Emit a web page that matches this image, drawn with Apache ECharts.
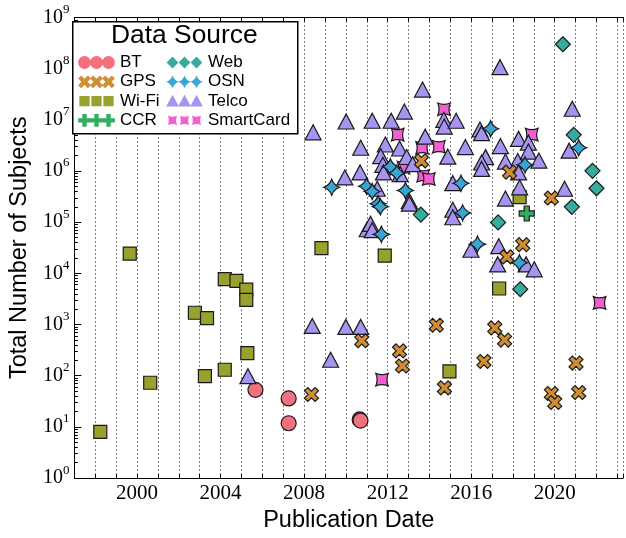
<!DOCTYPE html>
<html><head><meta charset="utf-8">
<script src="https://cdn.jsdelivr.net/npm/echarts@6/dist/echarts.min.js"></script>
<style>html,body{margin:0;padding:0;background:#fff}#c{width:626px;height:538px}</style>
</head><body><div id="c"></div>
<script>
// ---- data: [publication year, total number of subjects] ----
const bt = [[2005.67,53],[2007.26,36],[2007.26,11.8],[2010.66,14],[2010.70,13.3]];
const gps = [[2008.35,43],[2010.76,483],[2012.57,306],[2012.71,155],[2014.33,970],[2014.72,58],[2016.61,190],[2017.13,860],[2017.6,498],[2019.84,45],[2020.0,30],[2021.02,177],[2021.15,47],[2013.62,1.58e6],[2017.84,9.5e5],[2019.84,2.97e5],[2018.47,3.64e4],[2017.71,2.1e4]];
const wifi = [[1998.24,8],[1999.65,24400],[2000.63,73],[2002.77,1700],[2003.35,1340],[2003.25,98],[2004.2,7700],[2004.76,7130],[2005.23,4800],[2005.23,3030],[2004.2,131],[2005.28,276],[2008.83,31300],[2011.86,22300],[2014.96,122],[2018.32,3.1e5],[2017.34,5070]];
const ccr = [[2018.66,1.48e5]];
const web = [[2020.39,3.0e8],[2020.91,5.1e6],[2021.81,1.01e6],[2022.0,4.6e5],[2020.82,2.0e5],[2013.59,1.41e5],[2017.29,9.9e4],[2018.35,4.9e3]];
const osn = [[2009.32,4.83e5],[2010.99,5.05e5],[2011.26,3.99e5],[2011.54,2.3e5],[2011.65,2.0e5],[2011.70,5.8e4],[2012.13,1.21e6],[2012.44,9.1e5],[2012.85,4.17e5],[2015.51,5.77e5],[2015.59,1.52e5],[2016.30,3.73e4],[2018.58,1.32e6],[2018.31,1.61e4],[2021.15,2.85e6],[2016.93,6.7e6]];
const telco = [[2005.31,98],[2008.39,940],[2009.27,205],[2010.0,900],[2010.71,900],
 [2008.43,5.7e6],[2010.01,9.3e6],[2009.95,7.5e5],[2011.26,9.6e6],[2012.17,9.6e6],[2012.8,1.45e7],[2013.67,3.9e7],[2017.38,1.07e8],
 [2010.71,2.85e6],[2011.89,3.3e6],[2012.57,2.76e6],[2013.8,4.7e6],[2014.69,1.0e7],[2014.71,7.4e6],[2015.28,9.6e6],[2015.72,2.94e6],[2016.42,6.5e6],[2016.5,5.5e6],[2017.4,3.07e6],[2018.27,4.25e6],[2018.74,3.6e6],[2020.84,1.65e7],[2020.69,2.5e6],
 [2014.88,1.91e6],[2011.67,1.95e6],[2012.91,1.88e6],[2016.69,1.87e6],[2018.23,1.57e6],[2018.74,2.4e6],[2019.24,1.6e6],
 [2011.77,1.32e6],[2013.2,1.36e6],[2011.8,9.4e5],[2012.6,8.7e5],[2010.68,9.4e5],[2011.5,4.5e5],[2015.12,5.8e5],[2013.04,2.6e5],[2013.04,2.3e5],[2015.12,1.75e5],[2015.12,1.25e5],[2011.02,7.3e4],[2011.18,9.3e4],[2011.26,7.0e4],
 [2016.5,1.47e6],[2016.5,1.1e6],[2017.64,1.53e6],[2018.27,9.4e5],[2017.64,2.9e5],[2018.32,4.8e5],[2020.47,4.5e5],
 [2015.99,2.9e4],[2017.32,3.4e4],[2017.27,1.5e4],[2018.63,1.5e4],[2019.02,1.2e4]];
const smartcard = [[2014.7,1.61e7],[2012.48,5.14e6],[2013.65,2.85e6],[2014.45,2.98e6],[2018.9,5.14e6],[2012.76,1.17e6],[2013.7,8.1e5],[2013.97,7.0e5],[2011.73,84],[2022.15,2650]];

const legendCol1 = ['BT','GPS','Wi-Fi','CCR'];
const legendCol2 = ['Web','OSN','Telco','SmartCard'];
const xLabelYears = [2000,2004,2008,2012,2016,2020];
const xMin = 1997, xMax = 2023.27;
const yMin = 1, yMax = 1e9;

const colors = {BT:'#f3707f', GPS:'#d08d33', 'Wi-Fi':'#98a12c', CCR:'#33ad62', Web:'#37ab9d', OSN:'#38a5d3', Telco:'#a793f0', SmartCard:'#f25fd2'};

// ---- marker shapes ----
function shape(kind, cx, cy, r) {
  const f = (x, y) => (cx + x * r).toFixed(2) + ' ' + (cy + y * r).toFixed(2);
  const poly = pts => 'M' + pts.map(p => f(p[0], p[1])).join('L') + 'Z';
  switch (kind) {
    case 'circle': return 'M' + f(-1,0) + 'A' + r + ' ' + r + ' 0 1 0 ' + f(1,0) + 'A' + r + ' ' + r + ' 0 1 0 ' + f(-1,0) + 'Z';
    case 'x': { const a = 0.48; return poly([[-1,-1+a],[-1+a,-1],[0,-a],[1-a,-1],[1,-1+a],[a,0],[1,1-a],[1-a,1],[0,a],[-1+a,1],[-1,1-a],[-a,0]]); }
    case 'square': { const s = 0.8; return poly([[-s,-s],[s,-s],[s,s],[-s,s]]); }
    case 'plus': { const w = 0.34; return poly([[-w,-1],[w,-1],[w,-w],[1,-w],[1,w],[w,w],[w,1],[-w,1],[-w,w],[-1,w],[-1,-w],[-w,-w]]); }
    case 'diamond': { const s = 0.92; return poly([[0,-s],[s,0],[0,s],[-s,0]]); }
    case 'star': { const c = 0.26; return 'M' + f(0,-1) + 'Q' + f(c,-c) + ' ' + f(1,0) + 'Q' + f(c,c) + ' ' + f(0,1) + 'Q' + f(-c,c) + ' ' + f(-1,0) + 'Q' + f(-c,-c) + ' ' + f(0,-1) + 'Z'; }
    case 'triangle': return poly([[0,-1],[1,0.85],[-1,0.85]]);
    case 'pillow': { const s = 0.72, c = 0.42; return 'M' + f(-s,-s) + 'Q' + f(0,-c) + ' ' + f(s,-s) + 'Q' + f(c,0) + ' ' + f(s,s) + 'Q' + f(0,c) + ' ' + f(-s,s) + 'Q' + f(-c,0) + ' ' + f(-s,-s) + 'Z'; }
  }
}
const kinds = {BT:'circle', GPS:'x', 'Wi-Fi':'square', CCR:'plus', Web:'diamond', OSN:'star', Telco:'triangle', SmartCard:'pillow'};
function legendIcon(name) {
  const k = kinds[name];
  return 'path://M0 0L0.01 0.01M37 13L36.99 12.99' + [6.5, 18.5, 30.5].map(cx => shape(k, cx, 6.5, 6.4)).join('');
}
function seriesSymbol(name) {
  const k = kinds[name];
  if (k === 'circle') return 'circle';
  if (k === 'triangle') return 'triangle';
  if (k === 'diamond') return 'diamond';
  if (k === 'square') return 'rect';
  return 'path://' + shape(k, 10, 10, 10);
}
const sizes = {BT:15, GPS:14, 'Wi-Fi':13, CCR:15, Web:[15,15], OSN:16, Telco:[16,15], SmartCard:12.5};
const dataByName = {BT:bt, GPS:gps, 'Wi-Fi':wifi, CCR:ccr, Web:web, OSN:osn, Telco:telco, SmartCard:smartcard};
const drawOrder = ['BT','Wi-Fi','SmartCard','Telco','GPS','Web','OSN','CCR'];

const minorVals = [];
for (let d = 0; d < 9; d++) for (let k = 2; k <= 9; k++) minorVals.push(k * Math.pow(10, d));

const serif = 'Liberation Serif';
const sans = 'Liberation Sans';

const chart = echarts.init(document.getElementById('c'), null, {renderer: 'canvas'});
const legendBase = {
  orient: 'vertical', top: 54, padding: 0, itemWidth: 37, itemHeight: 13, itemGap: 2.3, selectedMode: false,
  textStyle: {fontSize: 17, fontFamily: sans, color: '#000'}, itemStyle: {borderWidth: 0}
};
chart.setOption({
  animation: false,
  backgroundColor: '#fff',
  grid: {left: 70, right: 0, top: 17.5, bottom: 53},
  xAxis: [{
    type: 'value', min: xMin, max: xMax, interval: 1, position: 'bottom',
    axisLine: {show: true, onZero: false, lineStyle: {color: '#000', width: 1}},
    axisTick: {show: true, inside: true, length: 4, lineStyle: {color: '#000'}},
    axisLabel: {interval: 0, margin: 5, fontSize: 21, fontFamily: serif, color: '#000',
      formatter: v => xLabelYears.indexOf(v) >= 0 ? String(v) : ''},
    splitLine: {show: true, lineStyle: {color: '#000', width: 1, type: [1, 3]}},
    name: 'Publication Date', nameLocation: 'middle', nameGap: 25,
    nameTextStyle: {fontSize: 23.5, fontFamily: sans, color: '#000'}
  }, {
    type: 'value', min: xMin, max: xMax, interval: 1, position: 'top',
    axisLine: {show: true, onZero: false, lineStyle: {color: '#000', width: 1}},
    axisTick: {show: true, inside: true, length: 4, lineStyle: {color: '#000'}},
    axisLabel: {show: false}, splitLine: {show: false}
  }],
  yAxis: [{
    type: 'log', logBase: 10, min: yMin, max: yMax, position: 'left',
    axisLine: {show: true, onZero: false, lineStyle: {color: '#000', width: 1}},
    axisTick: {show: true, inside: true, length: 7, lineStyle: {color: '#000'}},
    axisLabel: {margin: 5, formatter: v => '{b|10}{s|' + Math.round(Math.log10(v)) + '}',
      rich: {b: {fontSize: 20, fontFamily: serif, color: '#000'},
             s: {fontSize: 13, fontFamily: serif, color: '#000', padding: [0, 0, 16, 0]}}},
    splitLine: {show: false},
    name: 'Total Number of Subjects', nameLocation: 'middle', nameGap: 35,
    nameTextStyle: {fontSize: 23.5, fontFamily: sans, color: '#000'}
  }, {
    type: 'log', logBase: 10, min: yMin, max: yMax, position: 'left', offset: 0,
    axisLine: {show: false},
    axisTick: {show: true, inside: true, length: 3.5, customValues: minorVals, lineStyle: {color: '#000'}},
    axisLabel: {show: false}, splitLine: {show: false}
  }],
  legend: [
    Object.assign({}, legendBase, {left: 78, data: legendCol1.map(n => ({name: n, icon: legendIcon(n)}))}),
    Object.assign({}, legendBase, {left: 166, data: legendCol2.map(n => ({name: n, icon: legendIcon(n)}))})
  ],
  graphic: [
    {type: 'rect', left: 72, top: 21, z: 3, shape: {width: 225, height: 112},
     style: {fill: '#fff', stroke: '#000', lineWidth: 1.5}},
    {type: 'text', z: 5, top: 23, left: 111,
     style: {text: 'Data Source', fontSize: 26.4, fontFamily: sans, fill: '#000'}}
  ],
  series: drawOrder.map(n => ({
    name: n, type: 'scatter', xAxisIndex: 0, yAxisIndex: 0,
    symbol: seriesSymbol(n), symbolSize: sizes[n],
    itemStyle: {color: colors[n], borderColor: '#1a1a1a', borderWidth: 1.2, opacity: 1},
    emphasis: {disabled: true},
    data: dataByName[n]
  }))
});
</script></body></html>
